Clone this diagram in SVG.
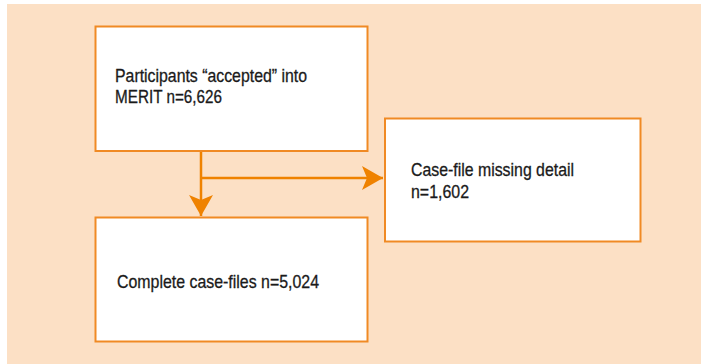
<svg xmlns="http://www.w3.org/2000/svg" width="701" height="364" viewBox="0 0 701 364">
<style>
.box{fill:#fff;stroke:#F08A24;stroke-width:2}
.con{fill:none;stroke:#EF8200;stroke-width:2.5}
.t{font-family:"Liberation Sans",Arial,sans-serif;font-size:18.5px;fill:#1a1a1a;stroke:#1a1a1a;stroke-width:0.3}
</style>
<defs>
<marker id="ah" markerUnits="userSpaceOnUse" markerWidth="22" markerHeight="24" refX="21" refY="12" orient="auto">
<path d="M0,0 L21,12 L0,24 L5,12 Z" fill="#EF8200"/>
</marker>
</defs>
<rect x="7" y="4" width="694" height="360" fill="#FCE0C5"/>
<g id="connectors">
<path class="con" d="M201,151 V216" marker-end="url(#ah)"/>
<path class="con" d="M201,178 H383" marker-end="url(#ah)"/>
</g>
<g id="node-accepted">
<rect class="box" x="95.5" y="26.5" width="272" height="124.5"/>
<text class="t" x="115" y="82" textLength="192" lengthAdjust="spacingAndGlyphs">Participants “accepted” into</text>
<text class="t" x="115" y="103" textLength="107" lengthAdjust="spacingAndGlyphs">MERIT n=6,626</text>
</g>
<g id="node-missing">
<rect class="box" x="385" y="118.5" width="255.5" height="123"/>
<text class="t" x="411" y="176" textLength="163" lengthAdjust="spacingAndGlyphs">Case-file missing detail</text>
<text class="t" x="411" y="197.5" textLength="58" lengthAdjust="spacingAndGlyphs">n=1,602</text>
</g>
<g id="node-complete">
<rect class="box" x="95.5" y="217.5" width="272" height="124"/>
<text class="t" x="117" y="288" textLength="202" lengthAdjust="spacingAndGlyphs">Complete case-files n=5,024</text>
</g>
</svg>
